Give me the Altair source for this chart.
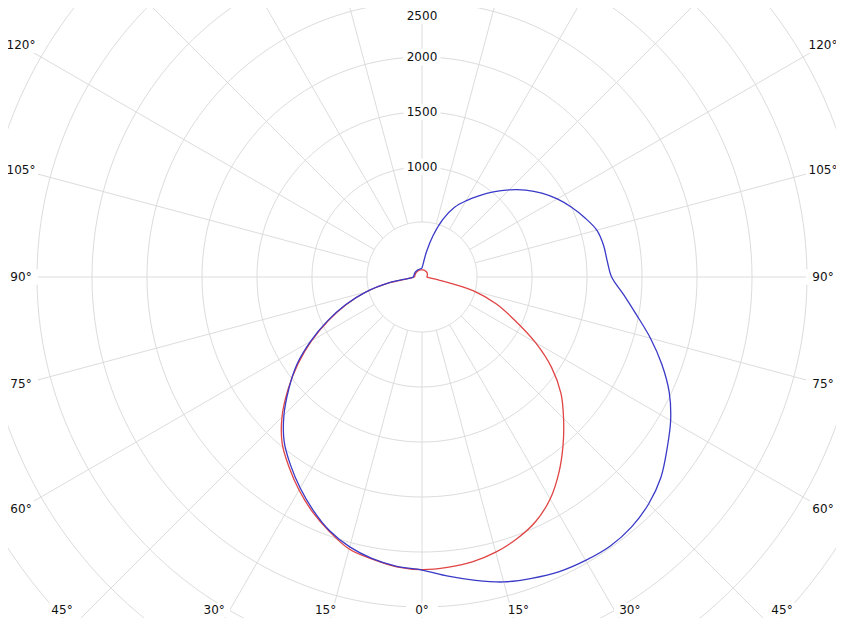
import altair as alt
import pandas as pd
import numpy as np

# ---- data: luminous intensity (cd) per angle from nadir (deg), left side negative ----
angles = list(range(-180, 181, 5))

red_cd = [65, 65, 66, 66, 66, 66, 66, 66, 66, 66, 66, 66, 66, 66, 66, 66, 66, 66,   # -180..-95
          70, 100, 300, 528, 735, 941, 1160, 1377, 1590, 1800, 1977, 2108, 2236,    # -90..-30
          2356, 2462, 2560, 2605, 2645,                                             # -25..-5
          2660,                                                                     # 0
          2650, 2630, 2590, 2530, 2450, 2330, 2170, 1995, 1820, 1650, 1440, 1190,   # 5..60
          930, 720, 480, 150, 60, 45,                                               # 65..90
          45, 48, 50, 52, 54, 56, 58, 60, 60, 62, 62, 63, 64, 64, 65, 65, 65, 65]   # 95..180

blue_cd = [80, 78, 76, 75, 75, 75, 75, 75, 75, 75, 75, 75, 75, 75, 75, 75, 75, 76,  # -180..-95
           80, 110, 300, 530, 740, 950, 1170, 1390, 1580, 1775, 1950, 2085, 2215,   # -90..-30
           2340, 2455, 2540, 2600, 2640,                                            # -25..-5
           2664,                                                                    # 0
           2730, 2800, 2870, 2915, 2955, 2975, 2985, 2965, 2915, 2835, 2720, 2610,  # 5..60
           2480, 2320, 2150, 1980, 1840, 1724,                                      # 65..90
           1690, 1675, 1645, 1575, 1500, 1420, 1330, 1230, 1120, 1010, 900, 800,    # 95..150
           700, 560, 390, 230, 120, 80]                                             # 155..180

series_names = ["C0 - C180", "C90 - C270"]
series_colors = ["#e04444", "#3a3ac8"]

ring_values = [500, 1000, 1500, 2000, 2500, 3000, 3500, 4000, 4500, 5000, 5500, 6000]
spoke_angles = list(range(0, 360, 15))
radial_labels = [1000, 1500, 2000, 2500]
side_label_angles = [60, 75, 90, 105, 120]
bottom_label_angles = [-45, -30, -15, 0, 15, 30, 45]

# ---- geometry of the view ----
PX_PER_CD = 0.11
W, H = 828, 610
CX, CY = 414, 269
xdom = [-CX / PX_PER_CD, (W - CX) / PX_PER_CD]
ydom = [-(H - CY) / PX_PER_CD, CY / PX_PER_CD]
EDGE_CD = 401 / PX_PER_CD
BOTTOM_X_CD = 360 / PX_PER_CD
BOTTOM_Y_CD = (H - CY - 8) / PX_PER_CD      # kept just inside the frame
TOP_LIMIT_CD = (CY - 8) / PX_PER_CD          # labels kept just inside the frame

xs = alt.Scale(domain=xdom, nice=False, zero=False)
ys = alt.Scale(domain=ydom, nice=False, zero=False)
X = alt.X("x:Q", scale=xs, axis=None)
Y = alt.Y("y:Q", scale=ys, axis=None)

FONT = "DejaVu Sans"
GRID = "#dcdcdc"
TXT = "#111111"
BOX = "M-1,-0.45L1,-0.45L1,0.45L-1,0.45Z"

# rings
ring_steps = list(range(0, 361, 2))
ring_df = pd.DataFrame([(r, a, i) for r in ring_values for i, a in enumerate(ring_steps)],
                       columns=["r", "a", "i"])
rings = alt.Chart(ring_df).transform_calculate(
    x="datum.r*sin(datum.a*PI/180)", y="-datum.r*cos(datum.a*PI/180)"
).mark_line(color=GRID, strokeWidth=1, clip=True).encode(
    x=X, y=Y, detail="r:N", order="i:Q")

# spokes
spoke_df = pd.DataFrame({"a": spoke_angles})
spokes = alt.Chart(spoke_df).transform_calculate(
    x="500*sin(datum.a*PI/180)", y="-500*cos(datum.a*PI/180)",
    x2="7000*sin(datum.a*PI/180)", y2="-7000*cos(datum.a*PI/180)"
).mark_rule(color=GRID, strokeWidth=1, clip=True).encode(
    x=X, y=Y, x2="x2:Q", y2="y2:Q")

# curves
n = len(angles)
curve_df = pd.DataFrame({
    "theta": angles * 2,
    "cd": red_cd + blue_cd,
    "series": [series_names[0]] * n + [series_names[1]] * n,
    "i": list(range(n)) * 2,
})
curves = alt.Chart(curve_df).transform_calculate(
    x="datum.cd*sin(datum.theta*PI/180)", y="-datum.cd*cos(datum.theta*PI/180)"
).mark_line(strokeWidth=1.3, clip=True, interpolate="catmull-rom").encode(
    x=X, y=Y, order="i:Q",
    color=alt.Color("series:N", scale=alt.Scale(domain=series_names, range=series_colors), legend=None))

# radial value labels
rl_df = pd.DataFrame({"v": radial_labels})
rl_base = alt.Chart(rl_df).transform_calculate(
    x="0", y=f"min(datum.v, {TOP_LIMIT_CD})", label="datum.v + ''")
rl_bg = rl_base.mark_point(shape=BOX, filled=True, color="white", opacity=1, size=1370).encode(x=X, y=Y)
rl_txt = rl_base.mark_text(font=FONT, fontSize=12, color=TXT, baseline="middle", align="center").encode(
    x=X, y=Y, text="label:N")

# side angle labels (left and right)
side_df = pd.DataFrame({"a": side_label_angles * 2,
                        "s": [-1] * len(side_label_angles) + [1] * len(side_label_angles)})
side_base = alt.Chart(side_df).transform_calculate(
    x=f"datum.s*{EDGE_CD}",
    y=f"-{EDGE_CD}*cos(datum.a*PI/180)/sin(datum.a*PI/180)",
    label="datum.a + '°'")
side_bg = side_base.mark_point(shape=BOX, filled=True, color="white", opacity=1, size=1150).encode(x=X, y=Y)
side_txt = side_base.mark_text(font=FONT, fontSize=12, color=TXT, baseline="middle", align="center").encode(
    x=X, y=Y, text="label:N")

# bottom angle labels (at the lower frame edge)
bot_df = pd.DataFrame({"a": bottom_label_angles})
bot_base = alt.Chart(bot_df).transform_calculate(
    x=f"{BOTTOM_X_CD}*tan(datum.a*PI/180)",
    y=f"-{BOTTOM_Y_CD}",
    label="abs(datum.a) + '°'")
bot_bg = bot_base.mark_point(shape=BOX, filled=True, color="white", opacity=1, size=1000).encode(x=X, y=Y)
bot_txt = bot_base.mark_text(font=FONT, fontSize=12, color=TXT, baseline="middle", align="center").encode(
    x=X, y=Y, text="label:N")

chart = alt.layer(rings, spokes, curves, rl_bg, rl_txt, side_bg, side_txt, bot_bg, bot_txt).properties(
    width=W, height=H, padding=0, autosize=alt.AutoSizeParams(type="none"), background="white"
).configure_view(stroke=None)

chart.save("out.html", embed_options={"renderer": "svg", "actions": False})
